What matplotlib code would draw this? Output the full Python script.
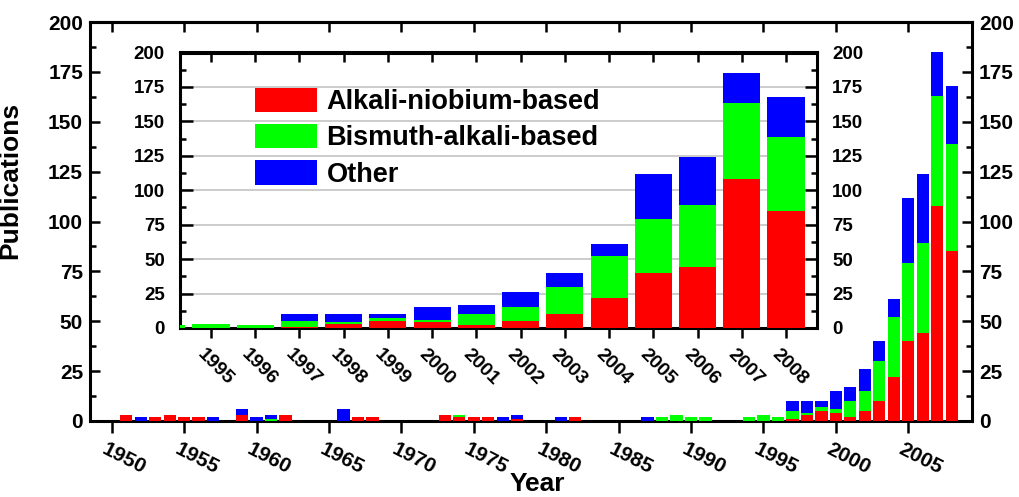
import matplotlib
matplotlib.use('Agg')
import matplotlib.pyplot as plt
import matplotlib.transforms as mtransforms
from matplotlib.ticker import MultipleLocator
import numpy as np

plt.rcParams['font.family'] = ['Liberation Sans', 'DejaVu Sans']
plt.rcParams['font.weight'] = 'bold'

# ---------------- data ----------------
years = list(range(1950, 2009))
alkali_niobium = [0, 3, 0, 2, 3, 2, 2, 0, 0, 3,
                  0, 0, 3, 0, 0, 0, 0, 2, 2, 0,
                  0, 0, 0, 3, 2, 2, 2, 0, 1, 0,
                  0, 0, 2, 0, 0, 0, 0, 0, 0, 0,
                  0, 0, 0, 0, 0, 0, 0, 1, 3, 5,
                  4, 2, 5, 10, 22, 40, 44, 108, 85]
bismuth_alkali = [0, 0, 0, 0, 0, 0, 0, 0, 0, 0,
                  0, 1, 0, 0, 0, 0, 0, 0, 0, 0,
                  0, 0, 0, 0, 1, 0, 0, 0, 0, 0,
                  0, 0, 0, 0, 0, 0, 0, 0, 2, 3,
                  2, 2, 0, 0, 2, 3, 2, 4, 1, 2,
                  2, 8, 10, 20, 30, 39, 45, 55, 54]
other = [0, 0, 2, 0, 0, 0, 0, 2, 0, 3,
         2, 2, 0, 0, 0, 0, 6, 0, 0, 0,
         0, 0, 0, 0, 0, 0, 0, 2, 2, 0,
         0, 2, 0, 0, 0, 0, 0, 2, 0, 0,
         0, 0, 0, 0, 0, 0, 0, 5, 6, 3,
         9, 7, 11, 10, 9, 33, 35, 22, 29]
series_labels = ['Alkali-niobium-based', 'Bismuth-alkali-based', 'Other']
series_colors = ['#ff0000', '#00ff00', '#0000ff']
main_xticks = list(range(1950, 2006, 5))
inset_xticks = list(range(1995, 2009))
yticks = list(range(0, 201, 25))

x = np.array(years)
r = np.array(alkali_niobium)
g = np.array(bismuth_alkali)
b = np.array(other)

W, H = 1020, 497
fig = plt.figure(figsize=(W / 100, H / 100), dpi=100)

def fr(l, t, rr, bb):
    return [l / W, 1 - bb / H, (rr - l) / W, (bb - t) / H]

SPW = 2.2
TICKW = 1.8

def stack(ax, width):
    ax.bar(x, r, width, color=series_colors[0], label=series_labels[0], zorder=3, linewidth=0)
    ax.bar(x, g, width, bottom=r, color=series_colors[1], label=series_labels[1], zorder=3, linewidth=0)
    ax.bar(x, b, width, bottom=r + g, color=series_colors[2], label=series_labels[2], zorder=3, linewidth=0)

# ---------------- main axes ----------------
ax = fig.add_axes(fr(90, 22, 972, 421))
stack(ax, 0.85)
ax.set_xlim(1948.5, 2009.4)
ax.set_ylim(0, 200)
for s in ax.spines.values():
    s.set_linewidth(SPW)
ax.set_yticks(yticks)
ax.yaxis.set_minor_locator(MultipleLocator(12.5))
ax.tick_params(axis='y', which='both', direction='in', left=True, right=True,
               labelleft=True, labelright=True, width=TICKW, labelsize=15, pad=5)
ax.tick_params(axis='y', which='major', length=7)
ax.tick_params(axis='y', which='minor', length=4.5)
ax.set_xticks(main_xticks)
ax.set_xticklabels([str(v) for v in main_xticks], rotation=-27, ha='left', va='top',
                   rotation_mode='anchor')
ax.tick_params(axis='x', which='major', direction='out', length=8.5, width=TICKW,
                labelsize=15, pad=5, bottom=True, top=False)
off = mtransforms.ScaledTranslation(-4 / 100, 0, fig.dpi_scale_trans)
for lab in ax.get_xticklabels():
    lab.set_transform(lab.get_transform() + off)
sec = ax.secondary_xaxis('top')
sec.set_xticks(main_xticks)
sec.tick_params(axis='x', direction='in', length=7, width=TICKW, labeltop=False)
sec.spines['top'].set_linewidth(SPW)
ax.set_ylabel('Publications', fontsize=19, fontweight='bold')
ax.yaxis.set_label_coords(-0.077, 0.604)
ax.set_xlabel('Year', fontsize=19, fontweight='bold')
ax.xaxis.set_label_coords(0.507, -0.128)

# ---------------- inset axes ----------------
ins = fig.add_axes(fr(180, 52.5, 817, 328))
ins.set_facecolor('white')
stack(ins, 0.84)
ins.set_xlim(1994.3, 2008.7)
ins.set_ylim(0, 200)
for s in ins.spines.values():
    s.set_linewidth(SPW)
ins.set_yticks(yticks)
ins.yaxis.set_minor_locator(MultipleLocator(12.5))
ins.grid(axis='y', which='major', color='#c4c4c4', linewidth=1.2, zorder=0)
ins.set_axisbelow(True)
ins.tick_params(axis='y', which='both', direction='in', left=True, right=True,
                labelleft=True, labelright=True, width=TICKW, labelsize=13.5, pad=11)
ins.tick_params(axis='y', which='major', length=9)
ins.tick_params(axis='y', which='minor', length=4.5)
ins.set_xticks(inset_xticks)
ins.set_xticklabels([str(v) for v in inset_xticks], rotation=-45, ha='left', va='top',
                    rotation_mode='anchor')
ins.tick_params(axis='x', which='major', direction='out', length=7, width=TICKW,
                labelsize=14, pad=6, bottom=True, top=False)
off2 = mtransforms.ScaledTranslation(-5 / 100, 0, fig.dpi_scale_trans)
for lab in ins.get_xticklabels():
    lab.set_transform(lab.get_transform() + off2)
sec2 = ins.secondary_xaxis('top')
sec2.set_xticks(inset_xticks)
sec2.tick_params(axis='x', direction='in', length=7, width=TICKW, labeltop=False)
sec2.spines['top'].set_linewidth(SPW)

leg = ins.legend(loc='upper left', bbox_to_anchor=(0.118, 0.872), frameon=False,
                 prop={'family': 'Liberation Sans', 'weight': 'bold', 'size': 19.5},
                 handlelength=2.3, handleheight=1.0, handletextpad=0.33,
                 labelspacing=0.33, borderpad=0, borderaxespad=0)

fig.savefig('out.png', dpi=100)
